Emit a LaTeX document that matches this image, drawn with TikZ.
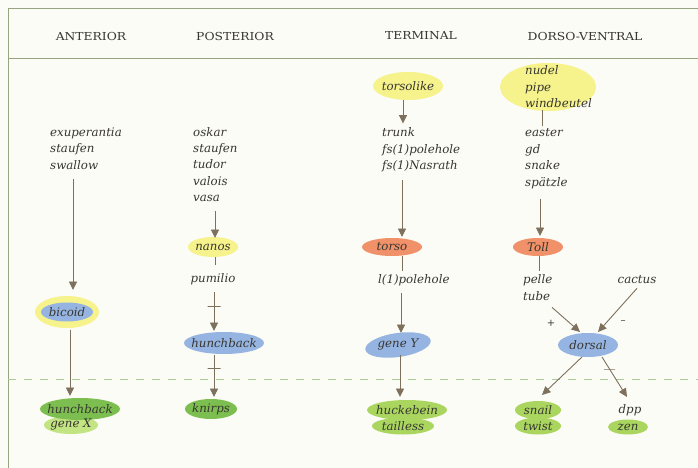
\documentclass[tikz,border=0pt]{standalone}
\usepackage{fontspec}
\setmainfont{DejaVu Serif}
\newfontfamily\hdrfont[FakeStretch=1.12]{DejaVu Serif}
\usetikzlibrary{arrows.meta}
\definecolor{ink}{RGB}{55,55,48}
\definecolor{framec}{RGB}{150,165,128}
\definecolor{dashc}{RGB}{170,205,150}
\definecolor{hiyel}{RGB}{246,242,140}
\definecolor{blu}{RGB}{150,180,226}
\definecolor{org}{RGB}{240,145,105}
\definecolor{grn}{RGB}{125,190,80}
\definecolor{ygrn}{RGB}{170,214,95}
\definecolor{lgrn}{RGB}{195,228,130}
\definecolor{arrc}{RGB}{125,112,92}
\definecolor{paper}{RGB}{252,252,246}
\pgfdeclarelayer{blobs}
\pgfsetlayers{blobs,main}
\begin{document}
\begin{tikzpicture}[x=1pt,y=-1pt,
  gtxt/.style={font=\fontsize{11.8}{16.4}\selectfont\itshape, text=ink, inner sep=0pt, align=left},
  hdr/.style={font=\hdrfont\fontsize{11}{12}\selectfont, text=ink, inner sep=0pt},
  arr/.style={draw=arrc, line width=0.9pt, -{Triangle[width=8pt,length=8.5pt]}},
  link/.style={draw=arrc, line width=0.8pt},
  tickmark/.style={draw=arrc, line width=0.8pt, minimum width=13pt, minimum height=0pt, inner sep=0pt},
  rule/.style={draw=framec, line width=0.9pt},
  sign/.style={font=\fontsize{10}{12}\selectfont, text=ink, inner sep=0pt},
]
\useasboundingbox (0,0) rectangle (698,468);
% frame
\draw[rule] (698,8) -- (8,8) -- (8,468);
\draw[rule] (8,58) -- (698,58);
\draw[draw=dashc, line width=0.9pt, dash pattern=on 8pt off 8pt] (8,379) -- (698,379);
% headers
\node[hdr] (hA) at (91,36) {ANTERIOR};
\node[hdr] (hP) at (235,36) {POSTERIOR};
\node[hdr] (hT) at (421,36) {TERMINAL};
\node[hdr] (hD) at (585,36) {DORSO-VENTRAL};
% anterior
\node[gtxt, anchor=base west] (exu) at (50,169) {exuperantia\\staufen\\swallow};
\node[gtxt] (bic) at (67,312) {bicoid};
\node[gtxt] (hbA) at (80,409) {hunchback};
\node[gtxt] (gX) at (71,425) {gene X};
% posterior
\node[gtxt, anchor=base west] (osk) at (193,201.6) {oskar\\staufen\\tudor\\valois\\vasa};
\node[gtxt] (nan) at (213,247) {nanos};
\node[gtxt] (pum) at (213,279) {pumilio};
\node[gtxt] (hbP) at (224,343) {hunchback};
\node[gtxt] (kni) at (211,409) {knirps};
% terminal
\node[gtxt] (tsl) at (408,86) {torsolike};
\node[gtxt, anchor=base west] (trk) at (382,169.5) {trunk\\fs(1)polehole\\fs(1)Nasrath};
\node[gtxt] (tor) at (392,247) {torso};
\node[gtxt, anchor=west] (l1p) at (378,280) {l(1)polehole};
\node[gtxt] (gY) at (398,345) {gene Y};
\node[gtxt] (huc) at (407,410) {huckebein};
\node[gtxt] (tai) at (403,426) {tailless};
% dorso-ventral
\node[gtxt, anchor=west] (nud) at (525,87) {nudel\\pipe\\windbeutel};
\node[gtxt, anchor=base west] (eas) at (525,186) {easter\\gd\\snake\\spätzle};
\node[gtxt] (tol) at (538,247) {Toll};
\node[gtxt, anchor=base west] (pel) at (523,300) {pelle\\tube};
\node[gtxt] (cac) at (637,280) {cactus};
\node[sign] (plus) at (551,323) {+};
\node[sign] (minus) at (623,322) {–};
\node[gtxt] (dor) at (588,345) {dorsal};
\node[gtxt] (sna) at (538,410) {snail};
\node[gtxt] (twi) at (538,426) {twist};
\node[gtxt] (dpp) at (630,410) {dpp};
\node[gtxt] (zen) at (628,427) {zen};
% blobs
\begin{pgfonlayer}{blobs}
\fill[paper] (0,0) rectangle (698,468);
\fill[hiyel] (bic.center) ellipse (32 and 16);
\fill[blu] (bic.center) ellipse (26 and 9.5);
\fill[lgrn] (gX.center) ellipse (27 and 9);
\fill[grn] (hbA.center) ellipse (40 and 11);
\fill[hiyel] (nan.center) ellipse (25 and 10);
\fill[blu] (hbP.center) ellipse (40 and 11);
\fill[grn] (kni.center) ellipse (26 and 10);
\fill[hiyel] (tsl.center) ellipse (35 and 14);
\fill[org] (tor.center) ellipse (30 and 9);
\fill[blu, rotate around={8:(gY.center)}] (gY.center) ellipse (33 and 12);
\fill[ygrn] (tai.center) ellipse (31 and 8.5);
\fill[ygrn] (huc.center) ellipse (40 and 10);
\fill[hiyel] ([xshift=23pt]nud.west) ellipse (48 and 24);
\fill[org] (tol.center) ellipse (25 and 9);
\fill[blu] (dor.center) ellipse (30 and 12);
\fill[ygrn] (twi.center) ellipse (23 and 8.5);
\fill[ygrn] (sna.center) ellipse (23 and 9);
\fill[ygrn] (zen.center) ellipse (20 and 7.5);
\end{pgfonlayer}
% anterior connectors
\draw[arr] ([shift={(23,10)}]exu.south west) -- ([shift={(6,-22)}]bic.center);
\draw[arr] ([shift={(3,18)}]bic.center) -- ([shift={(-10,-13)}]hbA.center);
% posterior connectors
\draw[arr] ([shift={(22,9)}]osk.south west) -- ([shift={(2,-9)}]nan.center);
\draw[link] ([shift={(2,10)}]nan.center) -- ([shift={(2,-14)}]pum.center);
\draw[arr] ([shift={(1,13)}]pum.center) -- node[tickmark, pos=0.38] (tk1) {} ([shift={(-10,-12)}]hbP.center);
\draw[arr] ([shift={(-10,12)}]hbP.center) -- node[tickmark, pos=0.31] (tk2) {} ([shift={(3,-12)}]kni.center);
% terminal connectors
\draw[arr] ([shift={(-5,14)}]tsl.center) -- ([shift={(-5,-4)}]trk.north -| tsl.center);
\draw[arr] ([shift={(10,8)}]trk.south -| tor.center) -- ([shift={(10,-10)}]tor.center);
\draw[link] ([shift={(10,9)}]tor.center) -- ([shift={(10,-3)}]l1p.north -| tor.center);
\draw[arr] ([shift={(3,7)}]l1p.south -| gY.center) -- ([shift={(3,-12)}]gY.center);
\draw[arr] ([shift={(2,10)}]gY.center) -- ([shift={(-7,-13)}]huc.center);
% dorso-ventral connectors
\draw[link] ([shift={(17,23)}]nud.west) -- ([shift={(17,-3)}]eas.north west);
\draw[arr] ([shift={(15,10)}]eas.south west) -- ([shift={(2,-11)}]tol.center);
\draw[link] ([shift={(1,9)}]tol.center) -- ([shift={(16,-3)}]pel.north west);
\draw[arr] ([shift={(29,7)}]pel.south west) -- ([shift={(-8,-13)}]dor.center);
\draw[arr] ([shift={(0,4)}]cac.south) -- ([shift={(10,-13)}]dor.center);
\draw[arr] ([shift={(-6,12)}]dor.center) -- ([shift={(4,-15)}]sna.center);
\draw[arr] ([shift={(14,12)}]dor.center) -- node[tickmark, pos=0.3, minimum width=11pt] (tk3) {} ([shift={(-3,-13)}]dpp.center);
\end{tikzpicture}
\end{document}
